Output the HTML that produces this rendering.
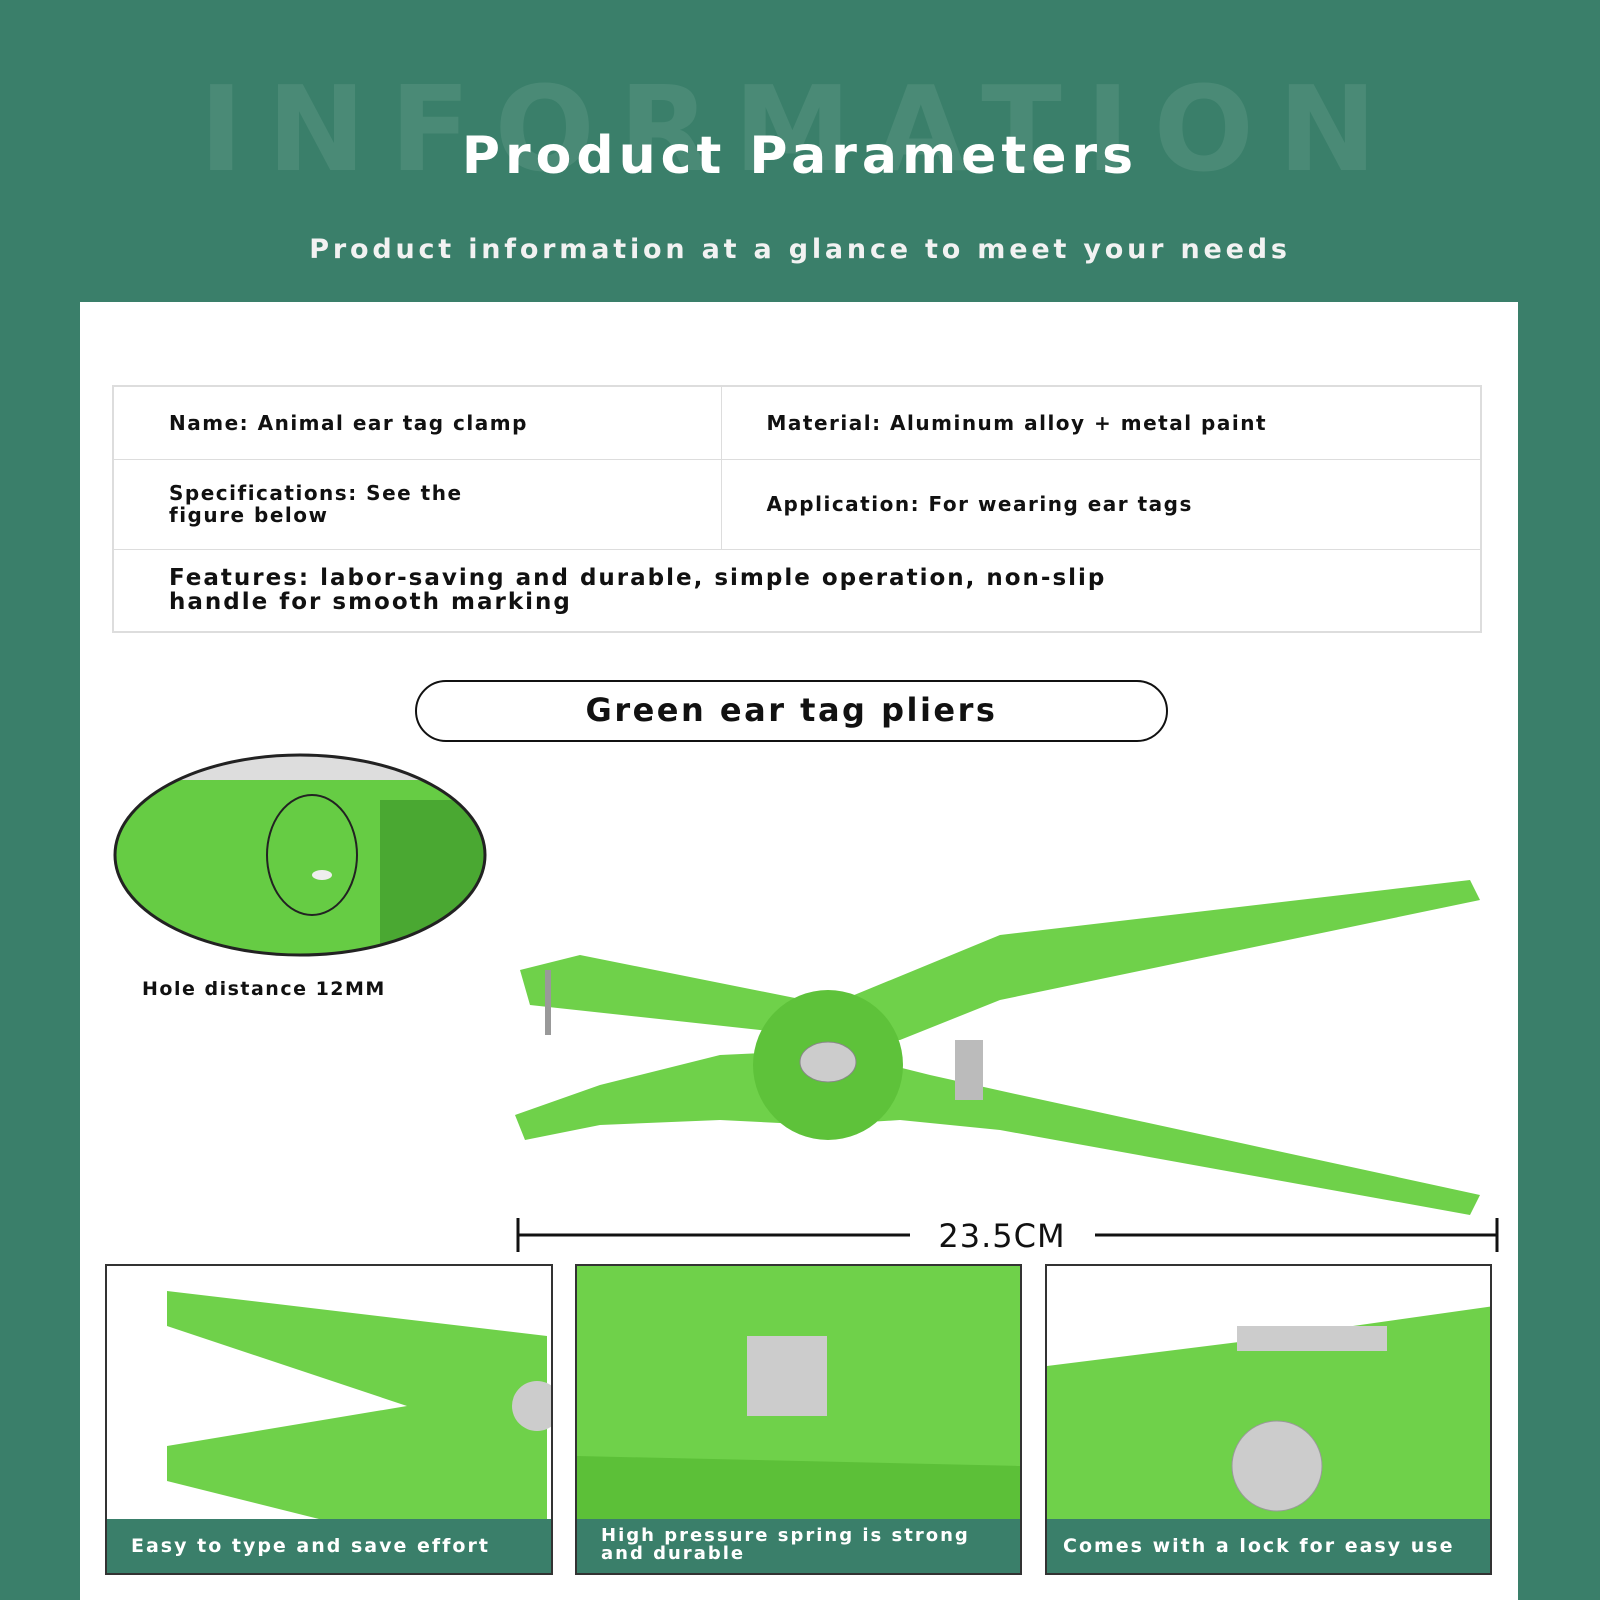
<!DOCTYPE html>
<html><head><meta charset="utf-8"><style>
*{margin:0;padding:0;box-sizing:border-box}
body{width:1600px;height:1600px;background:#3a7f6a;position:relative;overflow:hidden;font-family:"DejaVu Sans","Liberation Sans",sans-serif;font-weight:bold}
.abs{position:absolute}
.wm{left:0;width:1600px;top:60px;text-align:center;font-size:118px;letter-spacing:24px;color:#4a8a76;font-family:"DejaVu Sans",sans-serif}
.title{left:0;width:1600px;top:126px;text-align:center;color:#fff;font-size:52px;letter-spacing:5px}
.sub{left:0;width:1600px;top:234px;text-align:center;color:#f2f2f2;font-size:27px;letter-spacing:3.8px}
.panel{left:80px;top:302px;width:1438px;height:1298px;background:#fff}
table{position:absolute;left:112px;top:385px;width:1370px;height:248px;border-collapse:collapse;border:2px solid #ddd}
td{border:1px solid #ddd;font-size:20px;color:#111;vertical-align:middle;padding-left:55px;line-height:22px;letter-spacing:1.5px;white-space:nowrap}
.pill{left:415px;top:680px;width:753px;height:62px;border:2px solid #111;border-radius:31px;text-align:center;font-size:32px;line-height:56px;color:#111;letter-spacing:2.5px}
.cap{font-size:19px;color:#fff;background:#3a7f6a;position:absolute;left:0;bottom:0;width:100%;height:54px;padding-left:24px;letter-spacing:2px;white-space:nowrap}
.box{border:2px solid #333;overflow:hidden;background:#fff}
</style></head><body>
<div class="abs wm">INFORMATION</div>
<div class="abs title">Product Parameters</div>
<div class="abs sub">Product information at a glance to meet your needs</div>
<div class="abs panel"></div>
<table>
<tr style="height:73px"><td style="width:608px">Name: Animal ear tag clamp</td><td style="padding-left:45px">Material: Aluminum alloy + metal paint</td></tr>
<tr style="height:90px"><td>Specifications: See the<br>figure below</td><td style="padding-left:45px">Application: For wearing ear tags</td></tr>
<tr><td colspan="2" style="font-size:23px;line-height:24px;letter-spacing:2px">Features: labor-saving and durable, simple operation, non-slip<br>handle for smooth marking</td></tr>
</table>
<div class="abs pill">Green ear tag pliers</div>
<svg class="abs" style="left:0;top:740px" width="1600" height="540">
<defs><clipPath id="c"><ellipse cx="300" cy="115" rx="185" ry="100"/></clipPath></defs>
<g clip-path="url(#c)"><rect x="100" y="0" width="400" height="240" fill="#66cc44"/><rect x="100" y="0" width="400" height="40" fill="#ddd"/><rect x="380" y="60" width="120" height="160" fill="#4aa832"/><ellipse cx="312" cy="115" rx="45" ry="60" fill="none" stroke="#222" stroke-width="2"/><ellipse cx="322" cy="135" rx="10" ry="5" fill="#eee"/></g>
<ellipse cx="300" cy="115" rx="185" ry="100" fill="none" stroke="#222" stroke-width="3"/>
<text x="142" y="255" font-size="19" fill="#111" font-weight="bold" letter-spacing="1.5">Hole distance 12MM</text>
<path d="M520 230 L580 215 L830 265 L1000 195 L1470 140 L1480 160 L1000 260 L900 300 L830 300 L760 290 L530 265 Z" fill="#6fd14a"/>
<path d="M515 375 L600 345 L720 315 L830 310 L930 335 L1020 355 L1480 455 L1470 475 L1000 390 L900 380 L820 385 L720 380 L600 385 L525 400 Z" fill="#6fd14a"/>
<circle cx="828" cy="325" r="75" fill="#5ec23a"/>
<ellipse cx="828" cy="322" rx="28" ry="20" fill="#ccc" stroke="#888"/>
<rect x="955" y="300" width="28" height="60" fill="#bbb"/>
<rect x="545" y="230" width="6" height="65" fill="#999"/>
<line x1="518" y1="495" x2="1497" y2="495" stroke="#111" stroke-width="3"/>
<line x1="518" y1="478" x2="518" y2="512" stroke="#111" stroke-width="3"/>
<line x1="1497" y1="478" x2="1497" y2="512" stroke="#111" stroke-width="3"/>
<rect x="910" y="475" width="185" height="40" fill="#fff"/>
<text x="1002" y="507" font-size="32" text-anchor="middle" fill="#111" font-weight="normal" letter-spacing="1">23.5CM</text>
</svg>
<div class="abs box" style="left:105px;top:1264px;width:448px;height:311px">
<svg width="448" height="260"><path d="M60 25 L440 70 L440 260 L240 260 L60 215 L60 180 L300 140 L60 60Z" fill="#6fd14a"/><circle cx="430" cy="140" r="25" fill="#ccc"/></svg>
<div class="cap" style="line-height:54px">Easy to type and save effort</div></div>
<div class="abs box" style="left:575px;top:1264px;width:447px;height:311px">
<svg width="447" height="260"><rect width="447" height="260" fill="#6fd14a"/><rect x="170" y="70" width="80" height="80" fill="#ccc"/><path d="M0 190 L447 200 L447 260 L0 260Z" fill="#5cc038"/></svg>
<div class="cap" style="font-size:18px;line-height:18px;padding-top:8px">High pressure spring is strong<br>and durable</div></div>
<div class="abs box" style="left:1045px;top:1264px;width:447px;height:311px">
<svg width="447" height="260"><path d="M0 100 L200 75 L447 40 L447 260 L0 260Z" fill="#6fd14a"/><circle cx="230" cy="200" r="45" fill="#ccc" stroke="#999"/><rect x="190" y="60" width="150" height="25" fill="#ccc"/></svg>
<div class="cap" style="line-height:54px;padding-left:16px">Comes with a lock for easy use</div></div>
</body></html>
